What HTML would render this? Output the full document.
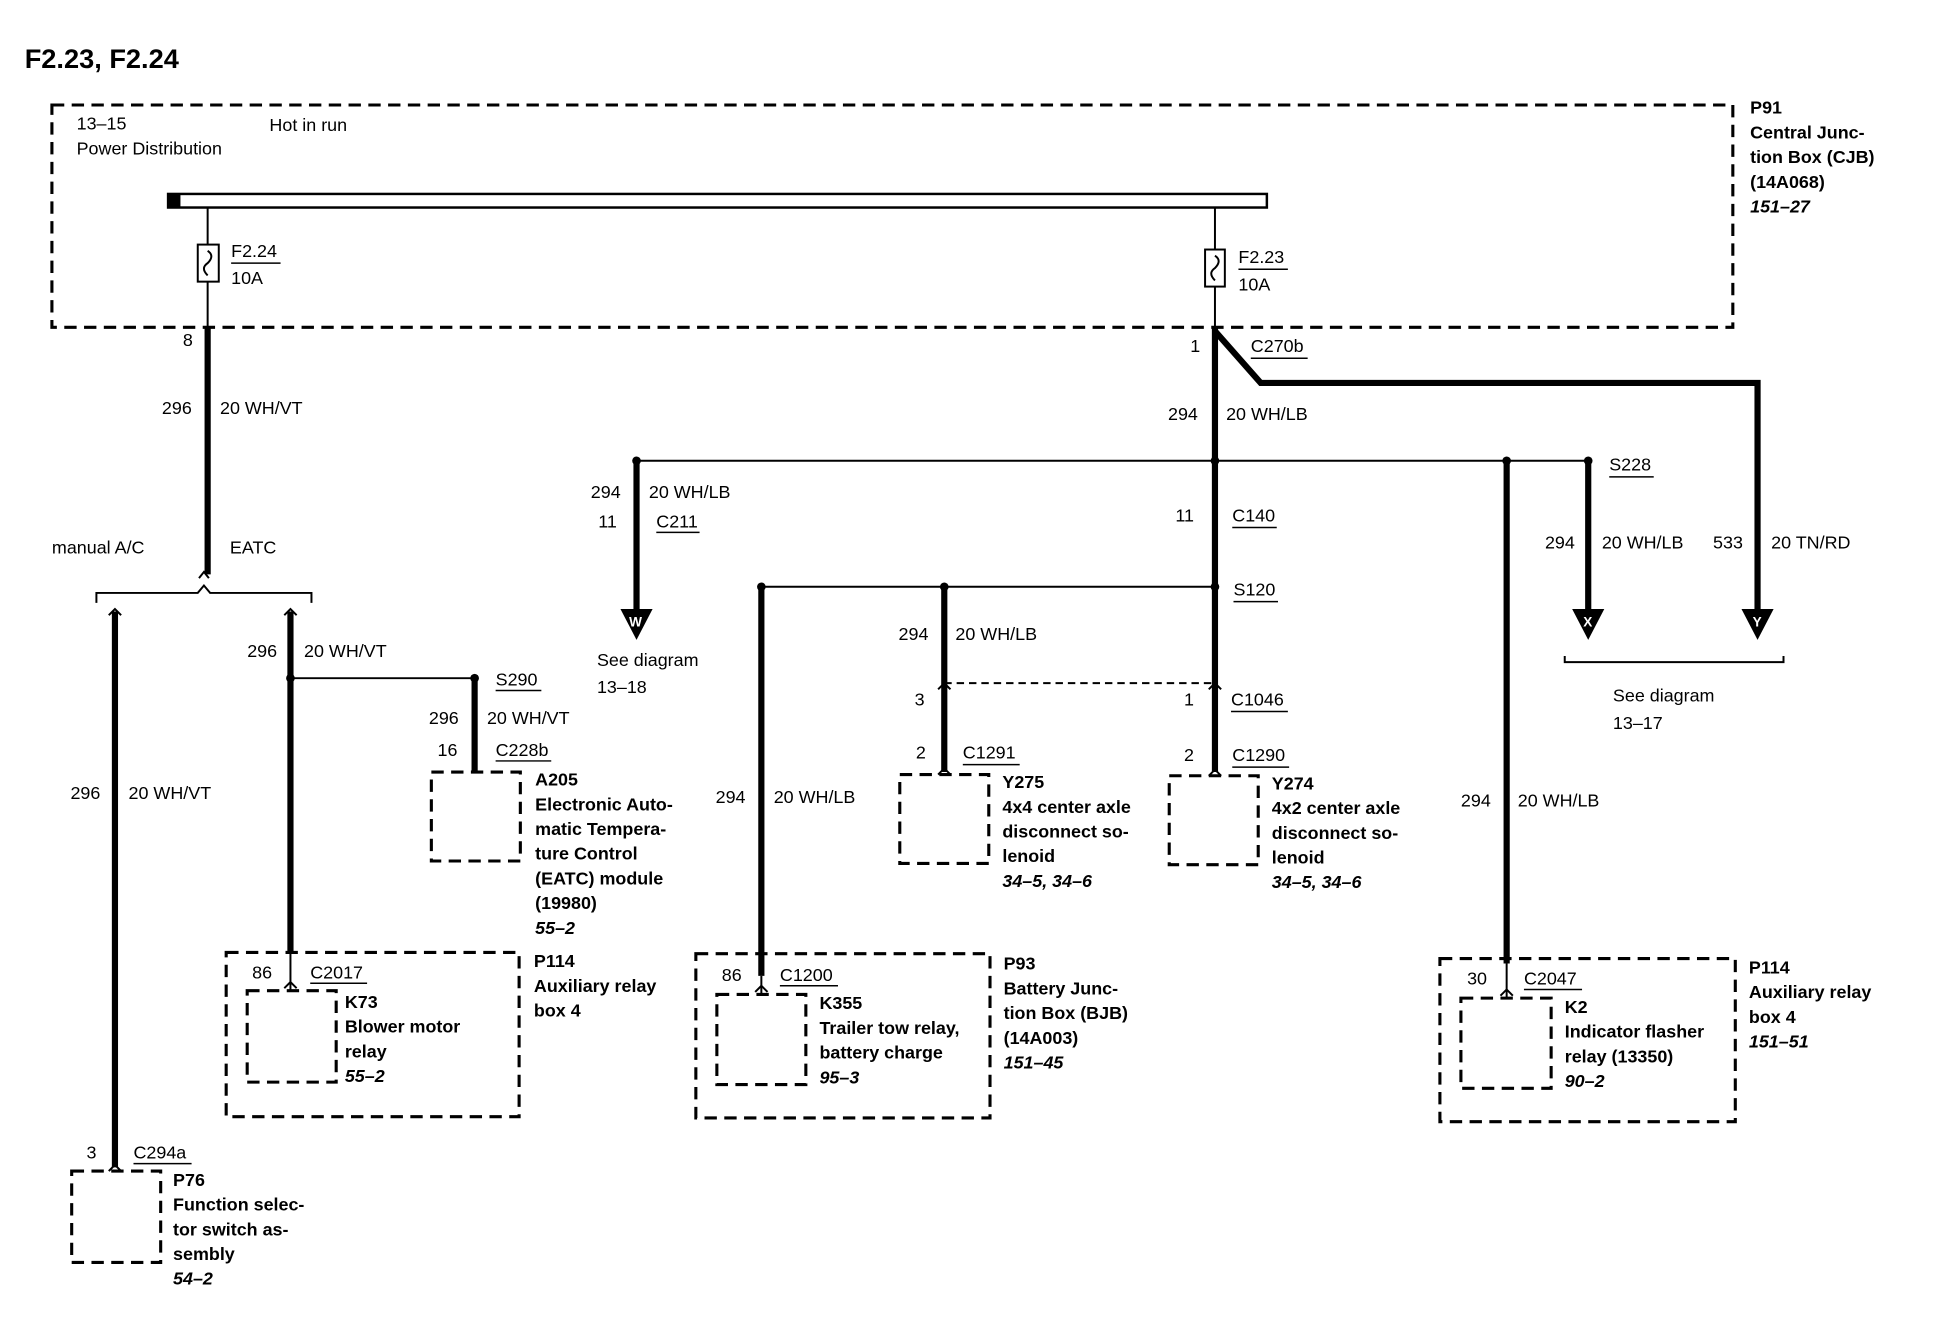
<!DOCTYPE html>
<html><head><meta charset="utf-8"><style>
html,body{margin:0;padding:0;background:#fff}
svg{display:block}
text{font-family:"Liberation Sans",Arial,sans-serif;font-size:14.5px;fill:#000}
.b{font-weight:bold}
.i{font-style:italic;font-weight:bold}
.t{stroke:#000;stroke-width:5;fill:none}
.n{stroke:#000;stroke-width:1.6;fill:none}
.d{stroke:#000;stroke-width:2.5;fill:none;stroke-dasharray:10,6}
.u{stroke:#000;stroke-width:1.2}
</style></head><body>
<svg width="1938" height="1344" viewBox="0 0 1568 1088" preserveAspectRatio="none" xmlns="http://www.w3.org/2000/svg">
<text x="20" y="55" class="b" style="font-size:22px">F2.23, F2.24</text>
<path class="d" d="M42,85 H1402 V265 H42 Z"/>
<text x="62" y="105">13–15</text>
<text x="62" y="125">Power Distribution</text>
<text x="218" y="106">Hot in run</text>
<text x="1416" y="92" class="b">P91</text>
<text x="1416" y="112" class="b">Central Junc-</text>
<text x="1416" y="132" class="b">tion Box (CJB)</text>
<text x="1416" y="152" class="b">(14A068)</text>
<text x="1416" y="172" class="i">151–27</text>
<rect x="136" y="157" width="889" height="11" fill="#fff" stroke="#000" stroke-width="2"/>
<rect x="136" y="157" width="10" height="11" fill="#000"/>
<line class="n" x1="168" y1="168" x2="168" y2="265"/>
<rect x="160" y="198" width="17" height="30" fill="#fff" stroke="#000" stroke-width="1.6"/>
<path class="n" d="M168,203 q6,4 0,10 q-6,4 0,10"/>
<text x="187" y="208">F2.24</text><line class="u" x1="187" y1="213" x2="227" y2="213"/>
<text x="187" y="230">10A</text>
<line class="t" x1="168" y1="265" x2="168" y2="465"/>
<text x="148" y="280">8</text>
<text x="131" y="335">296</text><text x="178" y="335">20 WH/VT</text>
<path class="n" d="M161,468 L165,463 L169,468"/>
<text x="42" y="448">manual A/C</text><text x="186" y="448">EATC</text>
<path class="n" d="M78,488 V480 H160 L165,474 L170,480 H252 V488"/>
<path class="n" d="M88,498 L93,493 L98,498"/>
<line class="t" x1="93" y1="495" x2="93" y2="945"/>
<text x="57" y="647">296</text><text x="104" y="647">20 WH/VT</text>
<text x="70" y="938">3</text><text x="108" y="938">C294a</text><line class="u" x1="108" y1="942" x2="155" y2="942"/>
<path class="n" d="M88,948 L93,943 L98,948"/>
<path class="d" d="M58,948 H130 V1022 H58 Z"/>
<text x="140" y="960" class="b">P76</text>
<text x="140" y="980" class="b">Function selec-</text>
<text x="140" y="1000" class="b">tor switch as-</text>
<text x="140" y="1020" class="b">sembly</text>
<text x="140" y="1040" class="i">54–2</text>
<path class="n" d="M230,498 L235,493 L240,498"/>
<line class="t" x1="235" y1="495" x2="235" y2="770"/>
<text x="200" y="532">296</text><text x="246" y="532">20 WH/VT</text>
<line class="n" x1="235" y1="549" x2="384" y2="549"/>
<circle cx="235" cy="549" r="3.5"/><circle cx="384" cy="549" r="3.5"/>
<text x="401" y="555">S290</text><line class="u" x1="401" y1="559" x2="438" y2="559"/>
<line class="t" x1="384" y1="549" x2="384" y2="625"/>
<text x="347" y="586">296</text><text x="394" y="586">20 WH/VT</text>
<text x="354" y="612">16</text><text x="401" y="612">C228b</text><line class="u" x1="401" y1="616" x2="446" y2="616"/>
<path class="d" d="M349,625 H421 V697 H349 Z"/>
<text x="433" y="636" class="b">A205</text>
<text x="433" y="656" class="b">Electronic Auto-</text>
<text x="433" y="676" class="b">matic Tempera-</text>
<text x="433" y="696" class="b">ture Control</text>
<text x="433" y="716" class="b">(EATC) module</text>
<text x="433" y="736" class="b">(19980)</text>
<text x="433" y="756" class="i">55–2</text>
<path class="d" d="M183,771 H420 V904 H183 Z"/>
<path class="d" d="M200,802 H272 V876 H200 Z"/>
<line class="n" x1="235" y1="770" x2="235" y2="802"/>
<path class="n" d="M230,800 L235,795 L240,800"/>
<text x="204" y="792">86</text><text x="251" y="792">C2017</text><line class="u" x1="251" y1="796" x2="297" y2="796"/>
<text x="279" y="816" class="b">K73</text>
<text x="279" y="836" class="b">Blower motor</text>
<text x="279" y="856" class="b">relay</text>
<text x="279" y="876" class="i">55–2</text>
<text x="432" y="783" class="b">P114</text>
<text x="432" y="803" class="b">Auxiliary relay</text>
<text x="432" y="823" class="b">box 4</text>
<line class="n" x1="983" y1="168" x2="983" y2="265"/>
<rect x="975" y="202" width="16" height="30" fill="#fff" stroke="#000" stroke-width="1.6"/>
<path class="n" d="M983,207 q6,4 0,10 q-6,4 0,10"/>
<text x="1002" y="213">F2.23</text><line class="u" x1="1002" y1="218" x2="1042" y2="218"/>
<text x="1002" y="235">10A</text>
<path class="t" d="M983,265 V625"/>
<path class="t" d="M983,268 L1020,310 H1422 V495"/>
<text x="963" y="285">1</text><text x="1012" y="285">C270b</text><line class="u" x1="1012" y1="290" x2="1058" y2="290"/>
<text x="945" y="340">294</text><text x="992" y="340">20 WH/LB</text>
<line class="n" x1="515" y1="373" x2="1285" y2="373"/>
<circle cx="515" cy="373" r="3.5"/><circle cx="983" cy="373" r="3.5"/><circle cx="1219" cy="373" r="3.5"/><circle cx="1285" cy="373" r="3.5"/>
<line class="t" x1="515" y1="373" x2="515" y2="495"/>
<text x="478" y="403">294</text><text x="525" y="403">20 WH/LB</text>
<text x="484" y="427">11</text><text x="531" y="427">C211</text><line class="u" x1="531" y1="431" x2="566" y2="431"/>
<path d="M502,493 H528 L515,518 Z"/><text x="509" y="507" style="fill:#fff;font-size:11px" class="b">W</text>
<text x="483" y="539">See diagram</text><text x="483" y="561">13–18</text>
<text x="951" y="422">11</text><text x="997" y="422">C140</text><line class="u" x1="997" y1="427" x2="1033" y2="427"/>
<line class="n" x1="616" y1="475" x2="983" y2="475"/>
<circle cx="616" cy="475" r="3.5"/><circle cx="764" cy="475" r="3.5"/><circle cx="983" cy="475" r="3.5"/>
<text x="998" y="482">S120</text><line class="u" x1="998" y1="487" x2="1034" y2="487"/>
<line class="t" x1="616" y1="475" x2="616" y2="790"/>
<text x="579" y="650">294</text><text x="626" y="650">20 WH/LB</text>
<path class="d" d="M563,772 H801 V905 H563 Z"/>
<path class="d" d="M580,805 H652 V878 H580 Z"/>
<line class="n" x1="616" y1="790" x2="616" y2="805"/>
<path class="n" d="M611,803 L616,798 L621,803"/>
<text x="584" y="794">86</text><text x="631" y="794">C1200</text><line class="u" x1="631" y1="798" x2="678" y2="798"/>
<text x="663" y="817" class="b">K355</text>
<text x="663" y="837" class="b">Trailer tow relay,</text>
<text x="663" y="857" class="b">battery charge</text>
<text x="663" y="877" class="i">95–3</text>
<text x="812" y="785" class="b">P93</text>
<text x="812" y="805" class="b">Battery Junc-</text>
<text x="812" y="825" class="b">tion Box (BJB)</text>
<text x="812" y="845" class="b">(14A003)</text>
<text x="812" y="865" class="i">151–45</text>
<line class="t" x1="764" y1="475" x2="764" y2="625"/>
<text x="727" y="518">294</text><text x="773" y="518">20 WH/LB</text>
<line class="n" x1="764" y1="553" x2="983" y2="553" stroke-dasharray="6,4"/>
<path class="n" d="M759,558 L764,553 L769,558"/><path class="n" d="M978,558 L983,553 L988,558"/>
<text x="740" y="571">3</text><text x="958" y="571">1</text>
<text x="996" y="571">C1046</text><line class="u" x1="996" y1="576" x2="1042" y2="576"/>
<text x="741" y="614">2</text><text x="779" y="614">C1291</text><line class="u" x1="779" y1="619" x2="825" y2="619"/>
<path class="n" d="M759,627 L764,622 L769,627"/>
<path class="d" d="M728,627 H800 V699 H728 Z"/>
<text x="811" y="638" class="b">Y275</text>
<text x="811" y="658" class="b">4x4 center axle</text>
<text x="811" y="678" class="b">disconnect so-</text>
<text x="811" y="698" class="b">lenoid</text>
<text x="811" y="718" class="i">34–5, 34–6</text>
<text x="958" y="616">2</text><text x="997" y="616">C1290</text><line class="u" x1="997" y1="621" x2="1043" y2="621"/>
<path class="n" d="M978,628 L983,623 L988,628"/>
<path class="d" d="M946,628 H1018 V700 H946 Z"/>
<text x="1029" y="639" class="b">Y274</text>
<text x="1029" y="659" class="b">4x2 center axle</text>
<text x="1029" y="679" class="b">disconnect so-</text>
<text x="1029" y="699" class="b">lenoid</text>
<text x="1029" y="719" class="i">34–5, 34–6</text>
<line class="t" x1="1219" y1="373" x2="1219" y2="780"/>
<text x="1182" y="653">294</text><text x="1228" y="653">20 WH/LB</text>
<path class="d" d="M1165,776 H1404 V908 H1165 Z"/>
<path class="d" d="M1182,808 H1255 V881 H1182 Z"/>
<line class="n" x1="1219" y1="780" x2="1219" y2="808"/>
<path class="n" d="M1214,806 L1219,801 L1224,806"/>
<text x="1187" y="797">30</text><text x="1233" y="797">C2047</text><line class="u" x1="1233" y1="801" x2="1280" y2="801"/>
<text x="1266" y="820" class="b">K2</text>
<text x="1266" y="840" class="b">Indicator flasher</text>
<text x="1266" y="860" class="b">relay (13350)</text>
<text x="1266" y="880" class="i">90–2</text>
<text x="1415" y="788" class="b">P114</text>
<text x="1415" y="808" class="b">Auxiliary relay</text>
<text x="1415" y="828" class="b">box 4</text>
<text x="1415" y="848" class="i">151–51</text>
<line class="t" x1="1285" y1="373" x2="1285" y2="495"/>
<text x="1302" y="381">S228</text><line class="u" x1="1302" y1="386" x2="1338" y2="386"/>
<text x="1250" y="444">294</text><text x="1296" y="444">20 WH/LB</text>
<text x="1386" y="444">533</text><text x="1433" y="444">20 TN/RD</text>
<path d="M1272,493 H1298 L1285,518 Z"/><text x="1281" y="507" style="fill:#fff;font-size:11px" class="b">X</text>
<path d="M1409,493 H1435 L1422,518 Z"/><text x="1418" y="507" style="fill:#fff;font-size:11px" class="b">Y</text>
<path class="n" d="M1266,531 V536 H1443 V531"/>
<text x="1305" y="568">See diagram</text><text x="1305" y="590">13–17</text>
</svg>
</body></html>
